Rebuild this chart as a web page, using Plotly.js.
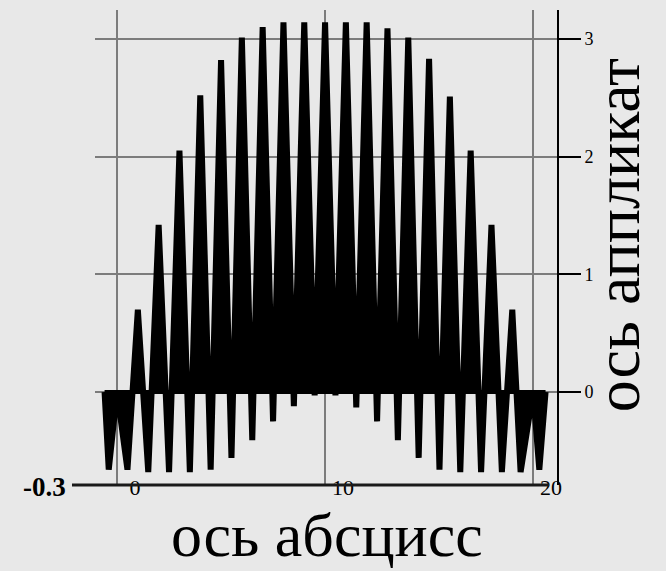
<!DOCTYPE html>
<html><head><meta charset="utf-8">
<script src="https://cdn.plot.ly/plotly-3.0.1.min.js"></script>
<style>html,body{margin:0;padding:0;background:#e8e8e8}</style>
</head><body>
<div id="chart" style="width:666px;height:571px"></div>
<script>
// Values
const curveX = [-0.6, -0.4, 0, 0.5,
  1, 1.5, 2, 2.5, 3, 3.5, 4, 4.5, 5, 5.5, 6, 6.5, 7, 7.5, 8, 8.5, 9, 9.5,
  10, 10.5, 11, 11.5, 12, 12.5, 13, 13.5, 14, 14.5, 15, 15.5, 16, 16.5, 17, 17.5, 18, 18.5,
  19, 19.4, 20, 20.3, 20.6];
const curveY = [0, -0.66, 0, -0.66,
  0.70, -0.68, 1.42, -0.68, 2.05, -0.68, 2.52, -0.66, 2.82, -0.56, 3.01, -0.41, 3.10, -0.25, 3.14, -0.12, 3.14, -0.03,
  3.14, -0.03, 3.14, -0.13, 3.14, -0.25, 3.09, -0.41, 3.01, -0.56, 2.83, -0.66, 2.51, -0.68, 2.05, -0.68, 1.42, -0.68,
  0.70, -0.68, 0, -0.66, 0];
const baseX = [-0.6, 20.6];
const baseY = [0, 0];
const xTickVals = [0, 10, 20];
const xTickText = ['0', '10', '20'];
const yTickVals = [0, 1, 2, 3];
const yTickText = ['0', '1', '2', '3'];
const xRange = [-1.06, 21.15];
const yRange = [-0.79, 3.245];
const cornerLabel = '-0.3';
const xTitle = 'ось абсцисс';
const yTitle = 'ось аппликат';

const serif = 'Liberation Serif, Times New Roman, serif';
const bg = '#e8e8e8';

const traces = [
  {x: curveX, y: curveY, type: 'scatter', mode: 'lines', fill: 'tozeroy',
   fillcolor: '#000', line: {color: '#000', width: 6}, hoverinfo: 'skip'},
  {x: baseX, y: baseY, type: 'scatter', mode: 'lines',
   line: {color: '#000', width: 4}, hoverinfo: 'skip'}
];

const layout = {
  width: 666, height: 571,
  paper_bgcolor: bg, plot_bgcolor: bg,
  showlegend: false,
  margin: {l: 95, r: 109, t: 10, b: 86},
  xaxis: {
    range: xRange, tickvals: xTickVals, ticktext: xTickText,
    showgrid: true, gridcolor: '#7c7c7c', gridwidth: 2,
    zeroline: false, showline: false, ticks: '',
    ticklabelshift: 18, ticklabelstandoff: -13,
    tickfont: {family: serif, size: 22, color: '#000'}
  },
  yaxis: {
    side: 'right', range: yRange, tickvals: yTickVals, ticktext: yTickText,
    showgrid: true, gridcolor: '#7c7c7c', gridwidth: 2,
    zeroline: false, showline: true, linecolor: '#000', linewidth: 2,
    ticks: 'outside', ticklen: 22, tickwidth: 2, tickcolor: '#000',
    tickfont: {family: serif, size: 18, color: '#000'}
  },
  shapes: [
    {type: 'line', xref: 'paper', yref: 'paper', x0: -0.0498, x1: 0.9827, y0: 0, y1: 0,
     line: {color: '#1a1a1a', width: 3}}
  ],
  annotations: [
    {xref: 'paper', yref: 'paper', x: -0.11, y: 0, xanchor: 'center', yanchor: 'middle', yshift: -2,
     showarrow: false, text: '<b>' + cornerLabel + '</b>', font: {family: serif, size: 27, color: '#000'}},
    {xref: 'paper', yref: 'paper', x: 0.502, y: -0.181, xanchor: 'center', yanchor: 'bottom',
     showarrow: false, text: xTitle, font: {family: serif, size: 62, color: '#000'}},
    {xref: 'paper', yref: 'paper', x: 1.13, y: 0.526, xanchor: 'center', yanchor: 'middle', textangle: -90,
     showarrow: false, text: yTitle, font: {family: serif, size: 64, color: '#000'}}
  ]
};

Plotly.newPlot('chart', traces, layout, {staticPlot: true, displayModeBar: false});
</script>
</body></html>
